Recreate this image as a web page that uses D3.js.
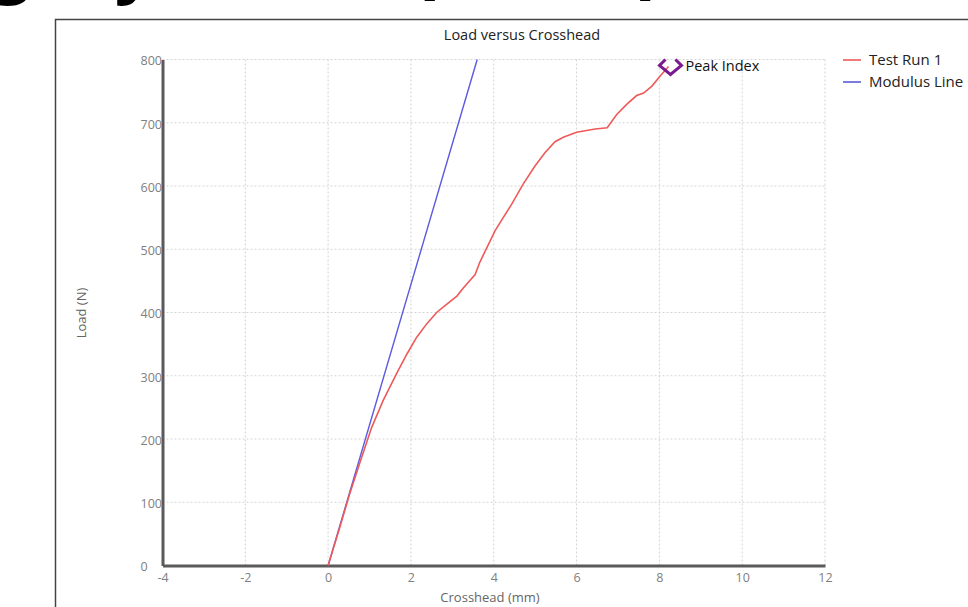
<!DOCTYPE html>
<html><head><meta charset="utf-8">
<script src="https://cdn.jsdelivr.net/npm/d3@7"></script>
<style>
html,body{margin:0;padding:0;background:#fff;}
svg{display:block;font-family:"Open Sans","Noto Sans",sans-serif;}
</style></head>
<body>
<svg id="chart" width="968" height="607"></svg>
<script>
// ---- data ----
const chartTitle = "Load versus Crosshead";
const xLabel = "Crosshead (mm)";
const yLabel = "Load (N)";
const xTicks = [-4, -2, 0, 2, 4, 6, 8, 10, 12];
const yTicks = [0, 100, 200, 300, 400, 500, 600, 700, 800];
const seriesNames = ["Test Run 1", "Modulus Line"];
const testRunX = [0, 0.28, 0.52, 0.81, 1.05, 1.33, 1.65, 1.90, 2.14, 2.38, 2.62, 2.86, 3.11, 3.27, 3.55, 3.66, 4.03, 4.43, 4.71, 5.00, 5.24, 5.48, 5.68, 6.00, 6.45, 6.74, 6.97, 7.21, 7.45, 7.62, 7.82, 8.02, 8.22];
const testRunY = [0, 60, 113, 171, 218, 261, 303, 334, 361, 382, 400, 413, 426, 439, 460, 479, 529, 571, 603, 632, 653, 670, 677, 685, 690, 692, 713, 729, 743, 747, 758, 774, 789];
const modulusX = [0, 3.6];
const modulusY = [0, 800];
const peakLabel = "Peak Index";
const headerFragments = ["g", "y", "(", ")"];

const svg = d3.select("#chart");
const W = 968, H = 607;

// cropped heading fragments (only their lower tips are visible)
const fragX = [-9, 114, 414, 638];
svg.selectAll("text.hdr").data(headerFragments).join("text")
  .attr("class", "hdr")
  .attr("x", (d, i) => fragX[i]).attr("y", -9)
  .attr("font-size", 64).attr("font-weight", 800).attr("fill", "#000")
  .text(d => d);

// outer frame
svg.append("path").attr("d", "M55.5," + H + "V19.5H" + W)
  .attr("fill", "none").attr("stroke", "#444").attr("stroke-width", 1.5);

const x = d3.scaleLinear().domain([-4, 12]).range([162.5, 825]);
const y = d3.scaleLinear().domain([0, 800]).range([565.5, 59.5]);

// grid
const g = svg.append("g");
g.selectAll("line.vg").data(xTicks.filter(t => t !== -4)).join("line")
  .attr("x1", d => x(d)).attr("x2", d => x(d)).attr("y1", y(800)).attr("y2", y(0))
  .attr("stroke", "#d4d4d4").attr("stroke-width", 1).attr("stroke-dasharray", "2,2");
g.selectAll("line.hg").data(yTicks.filter(t => t !== 0)).join("line")
  .attr("x1", x(-4)).attr("x2", x(12)).attr("y1", d => y(d)).attr("y2", d => y(d))
  .attr("stroke", "#d4d4d4").attr("stroke-width", 1).attr("stroke-dasharray", "2,2");

// axes
const fmt = d => String(d);
const xAxis = d3.axisBottom(x).tickValues(xTicks).tickFormat(fmt).tickSize(0).tickPadding(8);
const yAxis = d3.axisLeft(y).tickValues(yTicks).tickFormat(fmt).tickSize(0).tickPadding(22);
const gx = svg.append("g").attr("transform", `translate(0,${y(0)})`).call(xAxis);
const gy = svg.append("g").attr("transform", `translate(${x(-4)},0)`).call(yAxis);
gy.selectAll("text").attr("text-anchor", "start").attr("dy", "0.42em");
[gx, gy].forEach(a => {
  a.select(".domain").attr("stroke", "#5a5a5a").attr("stroke-width", 3);
  a.selectAll("text").attr("fill", "#808080").attr("font-size", 12.5)
    .attr("font-family", "'Open Sans','Noto Sans',sans-serif");
});

// lines
const line = d3.line().x(d => x(d[0])).y(d => y(d[1]));
const testData = testRunX.map((v, i) => [v, testRunY[i]]);
const modData = modulusX.map((v, i) => [v, modulusY[i]]);
svg.append("path").datum(modData).attr("d", line)
  .attr("fill", "none").attr("stroke", "#5a5ae0").attr("stroke-width", 1.4);
svg.append("path").datum(testData).attr("d", line)
  .attr("fill", "none").attr("stroke", "#ee5a5a").attr("stroke-width", 1.6);

// peak marker
const peak = testData.reduce((a, b) => b[1] > a[1] ? b : a);
const px = x(peak[0]) + 2, py = y(peak[1]);
svg.append("path")
  .attr("d", `M${px-5},${py-7}L${px-11},${py-1}L${px},${py+8}L${px+11},${py-1}L${px+5},${py-7}`)
  .attr("fill", "none").attr("stroke", "#7a1a8e").attr("stroke-width", 3)
  .attr("stroke-linejoin", "miter");
svg.append("text").attr("x", px + 15).attr("y", py + 5)
  .attr("font-size", 14.5).attr("fill", "#111").text(peakLabel);

// title & labels
svg.append("text").attr("x", 522).attr("y", 40).attr("text-anchor", "middle")
  .attr("font-size", 14.5).attr("fill", "#222").text(chartTitle);
svg.append("text").attr("transform", "translate(86,313) rotate(-90)")
  .attr("text-anchor", "middle").attr("font-size", 13).attr("fill", "#666").text(yLabel);
svg.append("text").attr("x", 490).attr("y", 602).attr("text-anchor", "middle")
  .attr("font-size", 13).attr("fill", "#666").text(xLabel);

// legend
const legColors = ["#ee5a5a", "#5a5ae0"];
const leg = svg.append("g").selectAll("g").data(seriesNames).join("g")
  .attr("transform", (d, i) => `translate(843,${60 + i * 22})`);
leg.append("line").attr("x1", 0).attr("x2", 18).attr("y1", 0).attr("y2", 0)
  .attr("stroke", (d, i) => legColors[i]).attr("stroke-width", 1.6);
leg.append("text").attr("x", 26).attr("y", 5).attr("font-size", 15)
  .attr("fill", "#222").text(d => d);
</script>
</body></html>
